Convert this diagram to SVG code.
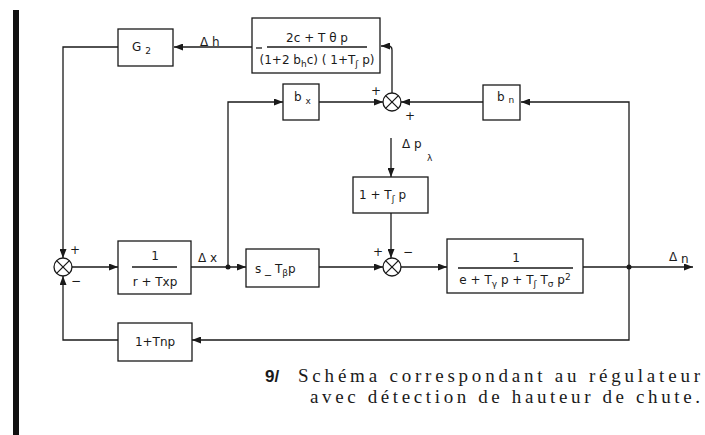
<svg xmlns="http://www.w3.org/2000/svg" width="705" height="435" viewBox="0 0 705 435">
<defs>
<style>
.box{fill:#fff;stroke:#1a1a1a;stroke-width:1.3}
.ln{fill:none;stroke:#1a1a1a;stroke-width:1.3}
.sum{fill:#fff;stroke:#1a1a1a;stroke-width:1.3}
.t{font-family:"DejaVu Sans","Liberation Sans",sans-serif;font-size:12px;fill:#1a1a1a}
.s{font-size:9px}
.sg{font-family:"DejaVu Sans",sans-serif;font-size:12px;fill:#1a1a1a;text-anchor:middle}
</style>
<marker id="ah" markerUnits="userSpaceOnUse" markerWidth="9" markerHeight="7" refX="9" refY="3.5" orient="auto">
<path d="M0,0 L9,3.5 L0,7 z" fill="#1a1a1a"/>
</marker>
</defs>
<rect width="705" height="435" fill="#fff"/>
<rect x="13" y="10" width="6" height="425" fill="#111"/>

<g id="connectors">
<path class="ln" d="M252,47 H174" marker-end="url(#ah)"/>
<path class="ln" d="M118,47 H63 V258" marker-end="url(#ah)"/>
<path class="ln" d="M72,267 H118" marker-end="url(#ah)"/>
<path class="ln" d="M191,267 H246" marker-end="url(#ah)"/>
<path class="ln" d="M228,267 V102 H283" marker-end="url(#ah)"/>
<path class="ln" d="M319,102 H383" marker-end="url(#ah)"/>
<path class="ln" d="M483,102 H401" marker-end="url(#ah)"/>
<path class="ln" d="M392,93 V50 Q392,46 388,46 H381" marker-end="url(#ah)"/>
<path class="ln" d="M391,138 V177" marker-end="url(#ah)"/>
<path class="ln" d="M391,213 V258" marker-end="url(#ah)"/>
<path class="ln" d="M319,267 H383" marker-end="url(#ah)"/>
<path class="ln" d="M401,267 H447" marker-end="url(#ah)"/>
<path class="ln" d="M583,267 H693" marker-end="url(#ah)"/>
<path class="ln" d="M629,267 V102 H521" marker-end="url(#ah)"/>
<path class="ln" d="M629,267 V340 H192" marker-end="url(#ah)"/>
<path class="ln" d="M118,340 H63 V276" marker-end="url(#ah)"/>
<circle cx="228" cy="267" r="2.5" fill="#1a1a1a"/>
<circle cx="629" cy="267" r="2.5" fill="#1a1a1a"/>
<text class="t" x="198" y="262">Δ x</text>
<text class="t" x="669" y="261">Δ <tspan dy="2">n</tspan></text>
<text class="t" x="200" y="46">Δ h</text>
<text class="t" x="402" y="148">Δ p</text>
<text class="t s" x="427" y="161">λ</text>
</g>

<g id="G2">
<rect class="box" x="118" y="29" width="55" height="37"/>
<text class="t" x="132" y="51">G <tspan class="s" dy="3">2</tspan></text>
</g>

<g id="feedback-h">
<rect class="box" x="252" y="18" width="128" height="55"/>
<path class="ln" d="M256,48 H262"/>
<path class="ln" d="M267,47 H367"/>
<text class="t" x="317" y="42" text-anchor="middle">2c + T θ p</text>
<text class="t" x="317" y="64" text-anchor="middle">(1+2 b<tspan class="s" dy="3">h</tspan><tspan dy="-3">c) ( 1+T</tspan><tspan class="s" dy="3">ʃ</tspan><tspan dy="-3"> p)</tspan></text>
</g>

<g id="bx">
<rect class="box" x="283" y="84" width="36" height="36"/>
<text class="t" x="294" y="101">b <tspan class="s" dy="3">x</tspan></text>
</g>

<g id="bn">
<rect class="box" x="483" y="85" width="37" height="35"/>
<text class="t" x="497" y="101">b <tspan class="s" dy="2">n</tspan></text>
</g>

<g id="sum-top">
<circle class="sum" cx="392" cy="102" r="9"/>
<path class="ln" d="M385.6,95.6 L398.4,108.4 M398.4,95.6 L385.6,108.4"/>
<text class="sg" x="376" y="95">+</text>
<text class="sg" x="410" y="120">+</text>
</g>

<g id="lead">
<rect class="box" x="353" y="177" width="75" height="36"/>
<text class="t" x="359" y="199">1 + T<tspan class="s" dy="3">ʃ</tspan><tspan dy="-3"> p</tspan></text>
</g>

<g id="sum-left">
<circle class="sum" cx="63" cy="267" r="9"/>
<path class="ln" d="M56.6,260.6 L69.4,273.4 M69.4,260.6 L56.6,273.4"/>
<text class="sg" x="75" y="254">+</text>
<text class="sg" x="76" y="285">−</text>
</g>

<g id="servo">
<rect class="box" x="118" y="241" width="73" height="53"/>
<text class="t" x="155" y="260" text-anchor="middle">1</text>
<path class="ln" d="M132,267 H177"/>
<text class="t" x="155" y="286" text-anchor="middle">r + Txp</text>
</g>

<g id="turbine">
<rect class="box" x="246" y="249" width="73" height="38"/>
<text class="t" x="255" y="273">s _ T<tspan class="s" dy="3">β</tspan><tspan dy="-3">p</tspan></text>
</g>

<g id="sum-bottom">
<circle class="sum" cx="392" cy="267" r="9"/>
<path class="ln" d="M385.6,260.6 L398.4,273.4 M398.4,260.6 L385.6,273.4"/>
<text class="sg" x="378" y="256">+</text>
<text class="sg" x="408" y="256">−</text>
</g>

<g id="plant">
<rect class="box" x="447" y="239" width="136" height="54"/>
<text class="t" x="516" y="262" text-anchor="middle">1</text>
<path class="ln" d="M458,268 H573"/>
<text class="t" x="515" y="284" text-anchor="middle">e + T<tspan class="s" dy="3">γ</tspan><tspan dy="-3"> p + T</tspan><tspan class="s" dy="3">ʃ</tspan><tspan dy="-3"> T</tspan><tspan class="s" dy="3">σ</tspan><tspan dy="-3"> p</tspan><tspan class="s" dy="-4">2</tspan></text>
</g>

<g id="tacho">
<rect class="box" x="118" y="323" width="74" height="38"/>
<text class="t" x="155" y="346" text-anchor="middle">1+Tnp</text>
</g>

<g id="caption">
<text x="265" y="382" font-family="'Liberation Sans', sans-serif" font-weight="bold" font-size="17" fill="#1a1a1a">9/</text>
<text x="298" y="382" font-family="'Liberation Serif', serif" font-size="19" fill="#1a1a1a" textLength="402" lengthAdjust="spacing">Schéma correspondant au régulateur</text>
<text x="310" y="403" font-family="'Liberation Serif', serif" font-size="19" fill="#1a1a1a" textLength="390" lengthAdjust="spacing">avec détection de hauteur de chute.</text>
</g>
</svg>
